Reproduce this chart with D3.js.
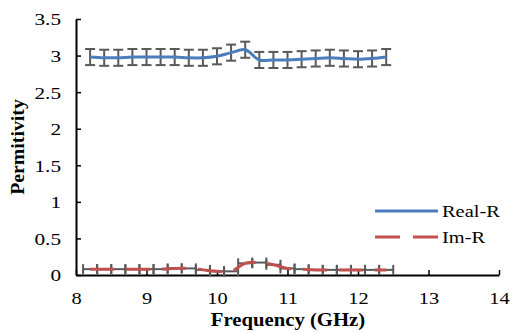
<!DOCTYPE html>
<html>
<head>
<script src="https://d3js.org/d3.v7.min.js"></script>
<title>Permittivity</title>
<style>
body {margin:0; background:#fff;}
text {font-family:"Liberation Serif", "Times New Roman", serif; fill:#000;}
</style>
</head>
<body>
<div id="myDiv"></div>
<script>
// data
var freq   = [8.2,8.4,8.6,8.8,9.0,9.2,9.4,9.6,9.8,10.0,10.2,10.4,10.6,10.8,11.0,11.2,11.4,11.6,11.8,12.0,12.2,12.4];
var realR  = [2.98,2.97,2.97,2.98,2.98,2.98,2.98,2.97,2.97,2.99,3.04,3.08,2.94,2.94,2.94,2.95,2.96,2.97,2.96,2.95,2.96,2.98];
var imR    = [0.08,0.08,0.08,0.08,0.08,0.08,0.09,0.09,0.07,0.05,0.05,0.16,0.17,0.14,0.09,0.08,0.07,0.07,0.07,0.07,0.07,0.07];
var realErr = 0.11;   // vertical error on Real-R
var imErrX  = 0.1;    // horizontal error on Im-R (GHz)
var xTicks = [8,9,10,11,12,13,14];
var yTicks = [0,0.5,1,1.5,2,2.5,3,3.5];
var seriesNames = ["Real-R","Im-R"];

var svg = d3.select("#myDiv").append("svg")
	.attr("width",512)
	.attr("height",333);

var x = d3.scaleLinear().domain([8,14]).range([76,499]);
var y = d3.scaleLinear().domain([0,3.5]).range([275,19]);

// the text in the picture is drawn wider than normal Times
function widen(sel, k) {
	sel.each(function(){
		var w = this.getComputedTextLength();
		d3.select(this).attr("textLength", w*k).attr("lengthAdjust","spacingAndGlyphs");
	});
}

// axes, ticks pointing inward
var xaxis = d3.axisBottom(x).tickValues(xTicks).tickSizeInner(-5).tickSizeOuter(0).tickFormat(d3.format("d"));
var yaxis = d3.axisLeft(y).tickValues(yTicks).tickSizeInner(-5).tickSizeOuter(0).tickFormat(function(d){return d;});

var gx = svg.append("g").attr("transform","translate(0,275)").call(xaxis);
var gy = svg.append("g").attr("transform","translate(76,0)").call(yaxis);

[gx,gy].forEach(function(g){
	g.attr("font-family",null).attr("font-size",null);
	g.select(".domain").attr("stroke","#000").attr("stroke-width",2);
	g.selectAll(".tick line").attr("stroke","#000").attr("stroke-width",1.5);
	g.selectAll(".tick text").attr("fill","#000").style("font-size","17px");
});
gx.selectAll(".tick text").attr("y",17);
gy.selectAll(".tick text").attr("x",-15).attr("dy","0.35em");
widen(gx.selectAll(".tick text"),1.2);
widen(gy.selectAll(".tick text"),1.25);

// Real-R error bars
var eb = svg.append("g").attr("stroke","#595959").attr("stroke-width",2);
freq.forEach(function(f,i){
	var cx = x(f), y1 = y(realR[i]+realErr), y2 = y(realR[i]-realErr);
	eb.append("line").attr("x1",cx).attr("x2",cx).attr("y1",y1).attr("y2",y2);
	eb.append("line").attr("x1",cx-5).attr("x2",cx+5).attr("y1",y1).attr("y2",y1);
	eb.append("line").attr("x1",cx-5).attr("x2",cx+5).attr("y1",y2).attr("y2",y2);
});

// Im-R horizontal error bars
freq.forEach(function(f,i){
	var cy = y(imR[i]), xa = x(f-imErrX), xb = x(f+imErrX);
	eb.append("line").attr("x1",xa).attr("x2",xb).attr("y1",cy).attr("y2",cy);
	eb.append("line").attr("x1",xa).attr("x2",xa).attr("y1",cy-5).attr("y2",cy+5);
	eb.append("line").attr("x1",xb).attr("x2",xb).attr("y1",cy-5).attr("y2",cy+5);
});

var line = d3.line().curve(d3.curveCatmullRom.alpha(0.5))
	.x(function(d){return x(d[0]);})
	.y(function(d){return y(d[1]);});

svg.append("path")
	.datum(freq.map(function(f,i){return [f,realR[i]];}))
	.attr("d",line).attr("fill","none")
	.attr("stroke","#4a7ebb").attr("stroke-width",3);

svg.append("path")
	.datum(freq.map(function(f,i){return [f,imR[i]];}))
	.attr("d",line).attr("fill","none")
	.attr("stroke","#c0504d").attr("stroke-width",3)
	.attr("stroke-dasharray","24,12");

// legend
var leg = svg.append("g");
var legColors = ["#4a7ebb","#c0504d"];
var legDash = [null,"25,13"];
seriesNames.forEach(function(n,i){
	var ly = 211 + i*26;
	leg.append("line").attr("x1",375).attr("x2",438).attr("y1",ly).attr("y2",ly)
		.attr("stroke",legColors[i]).attr("stroke-width",3)
		.attr("stroke-dasharray",legDash[i]);
	leg.append("text").attr("x",442).attr("y",ly).attr("dy","0.35em")
		.style("font-size","17px").text(n);
});
widen(leg.selectAll("text"),1.2);

// axis titles
var tx = svg.append("text").attr("x",288).attr("y",326).attr("text-anchor","middle")
	.style("font-size","18px").style("font-weight","bold").text("Frequency (GHz)");
var ty = svg.append("text").attr("transform","translate(24,147) rotate(-90)").attr("text-anchor","middle")
	.style("font-size","18px").style("font-weight","bold").text("Permitivity");
widen(tx,1.15);
widen(ty,1.1);
</script>
</body>
</html>
